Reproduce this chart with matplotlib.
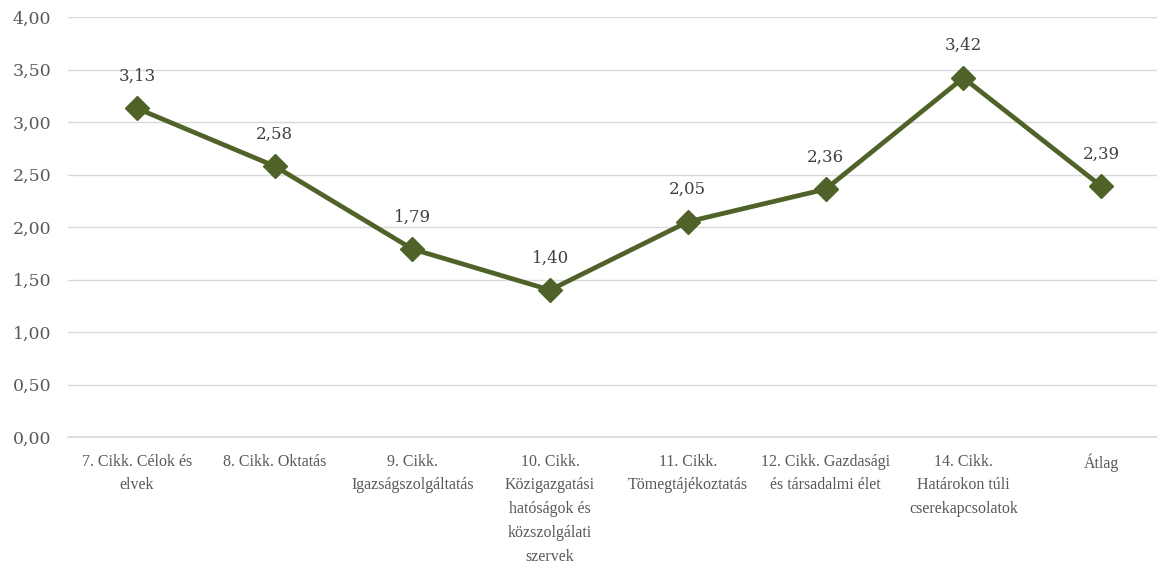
import matplotlib
matplotlib.use("Agg")
import matplotlib.pyplot as plt
from matplotlib.ticker import FuncFormatter

categories = [
    "7. Cikk. Célok és\nelvek",
    "8. Cikk. Oktatás",
    "9. Cikk.\nIgazságszolgáltatás",
    "10. Cikk.\nKözigazgatási\nhatóságok és\nközszolgálati\nszervek",
    "11. Cikk.\nTömegtájékoztatás",
    "12. Cikk. Gazdasági\nés társadalmi élet",
    "14. Cikk.\nHatárokon túli\ncserekapcsolatok",
    "Átlag",
]
values = [3.13, 2.58, 1.79, 1.40, 2.05, 2.36, 3.42, 2.39]
yticks = [0, 0.5, 1, 1.5, 2, 2.5, 3, 3.5, 4]

line_color = "#4f6228"
text_color = "#595959"

plt.rcParams["font.family"] = ["DejaVu Serif"]

W, H = 1157, 564
fig = plt.figure(figsize=(W / 100, H / 100), dpi=100)
ax = fig.add_axes([68 / W, 1 - 437 / H, 1102 / W, 420 / H])

x = list(range(len(values)))
ax.plot(x, values, color=line_color, linewidth=3.4, marker="D",
        markersize=12, markerfacecolor=line_color, markeredgecolor=line_color,
        zorder=3)

for xi, v in zip(x, values):
    ax.annotate(f"{v:.2f}".replace(".", ","), (xi, v), xytext=(0, 17),
                textcoords="offset points", ha="center", va="bottom",
                fontsize=12, color="#404040")

ax.set_xlim(-0.5, len(values) - 0.5)
ax.set_ylim(0, 4)
ax.set_yticks(yticks)
ax.yaxis.set_major_formatter(FuncFormatter(lambda v, p: f"{v:.2f}".replace(".", ",")))
ax.set_xticks(x)
ax.set_xticklabels(categories, fontsize=11.5, color=text_color, linespacing=1.65,
                   family=["Liberation Serif"])
ax.tick_params(axis="y", labelsize=12.5, colors=text_color, length=0, pad=12)
ax.tick_params(axis="x", length=0, pad=12)

ax.grid(axis="y", color="#d9d9d9", linewidth=1)
ax.set_axisbelow(True)
for s in ["top", "right", "left"]:
    ax.spines[s].set_visible(False)
ax.spines["bottom"].set_color("#d9d9d9")
ax.spines["bottom"].set_linewidth(1.2)

fig.savefig("out.png", dpi=100)
